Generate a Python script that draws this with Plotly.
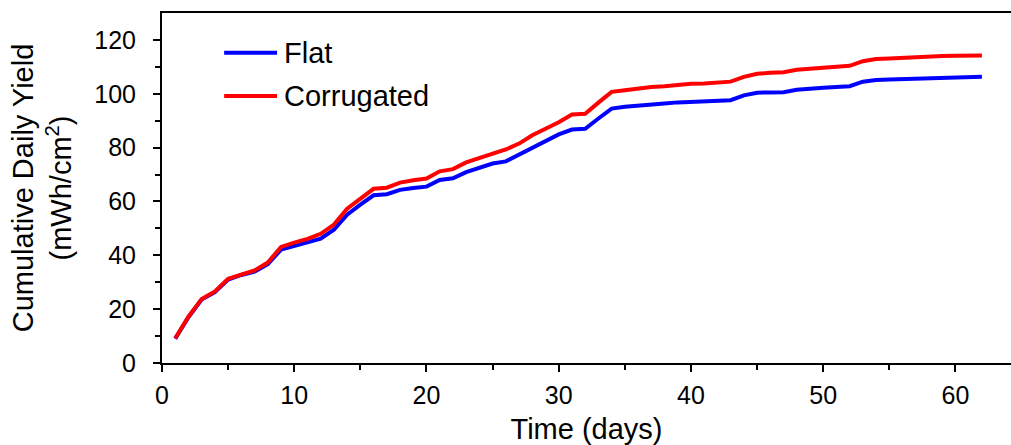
import plotly.graph_objects as go

days = list(range(1, 63))

flat = [9.0, 17.0, 23.6, 26.3, 31.0, 32.7, 33.9, 36.7, 42.1, 43.5,
        44.8, 46.2, 49.5, 55.1, 58.8, 62.3, 62.7, 64.3, 65.0, 65.5,
        68.0, 68.6, 70.9, 72.5, 74.1, 74.9, 77.4, 80.3, 82.8, 84.9,
        86.7, 87.0, 90.8, 94.5, 95.2, 95.7, 96.0, 96.4, 96.8, 97.0,
        97.1, 97.3, 97.6, 99.4, 100.4, 100.5, 100.6, 101.5, 102.0, 102.2,
        102.5, 102.8, 104.5, 105.1, 105.3, 105.4, 105.7, 105.8, 106.0, 106.1,
        106.2, 106.3]

corrugated = [9.2, 17.2, 23.8, 26.6, 31.3, 33.0, 34.4, 37.3, 43.1, 44.7,
              46.1, 48.0, 51.4, 57.3, 61.0, 64.7, 65.1, 67.0, 67.9, 68.5,
              71.2, 72.0, 74.5, 76.2, 77.8, 79.3, 81.5, 84.6, 87.0, 89.4,
              92.3, 92.6, 96.7, 100.7, 101.3, 102.0, 102.5, 102.8, 103.3, 103.7,
              103.8, 104.1, 104.5, 106.3, 107.4, 107.8, 108.0, 108.9, 109.3, 109.7,
              110.0, 110.4, 112.1, 112.9, 113.1, 113.4, 113.6, 113.9, 114.0, 114.1,
              114.2, 114.2]

series_names = ["Flat", "Corrugated"]
series_colors = ["#0000FF", "#FF0000"]

FONT = "Liberation Sans, Arial, sans-serif"
LINE_W = 4

fig = go.Figure()
for name, vals, col in zip(series_names, [flat, corrugated], series_colors):
    fig.add_trace(go.Scatter(x=days, y=vals, mode="lines", name=name,
                             line=dict(color=col, width=LINE_W), showlegend=False))

# hand-drawn legend: long line samples with labels
leg_x0, leg_x1, leg_tx = 4.7, 8.7, 9.1
for i, (name, col) in enumerate(zip(series_names, series_colors)):
    yy = 115.2 - i * 16.0
    fig.add_shape(type="line", xref="x", yref="y", x0=leg_x0, x1=leg_x1, y0=yy, y1=yy,
                  line=dict(color=col, width=LINE_W))
    fig.add_annotation(x=leg_tx, y=yy, xref="x", yref="y", text=name, showarrow=False,
                       xanchor="left", yanchor="middle",
                       font=dict(family=FONT, size=29, color="black"))

fig.update_layout(
    width=1011, height=445,
    margin=dict(l=162, r=0, t=13, b=82),
    paper_bgcolor="white", plot_bgcolor="white",
    font=dict(family=FONT, color="black"),
    showlegend=False,
)
fig.update_xaxes(
    range=[0, 64.2], dtick=10, tick0=0,
    showgrid=False, zeroline=False,
    showline=True, linecolor="black", linewidth=2, mirror=True,
    ticks="outside", ticklen=7, tickwidth=2, tickcolor="black",
    minor=dict(dtick=5, ticks="outside", ticklen=5, tickwidth=2, tickcolor="black", showgrid=False),
    tickfont=dict(family=FONT, size=25), ticklabelstandoff=2,
    title=dict(text="Time (days)", font=dict(family=FONT, size=29), standoff=12),
)
fig.update_yaxes(
    range=[0, 130], tickvals=[0, 20, 40, 60, 80, 100, 120],
    showgrid=False, zeroline=False,
    showline=True, linecolor="black", linewidth=2,
    ticks="outside", ticklen=7, tickwidth=2, tickcolor="black",
    minor=dict(tickvals=[10, 30, 50, 70, 90, 110], ticks="outside", ticklen=5, tickwidth=2,
               tickcolor="black", showgrid=False),
    tickfont=dict(family=FONT, size=25), ticklabelstandoff=12,
    title=dict(text="Cumulative Daily Yield<br>(mWh/cm<sup>2</sup>)",
               font=dict(family=FONT, size=29), standoff=14),
)

fig.write_html("out.html")
